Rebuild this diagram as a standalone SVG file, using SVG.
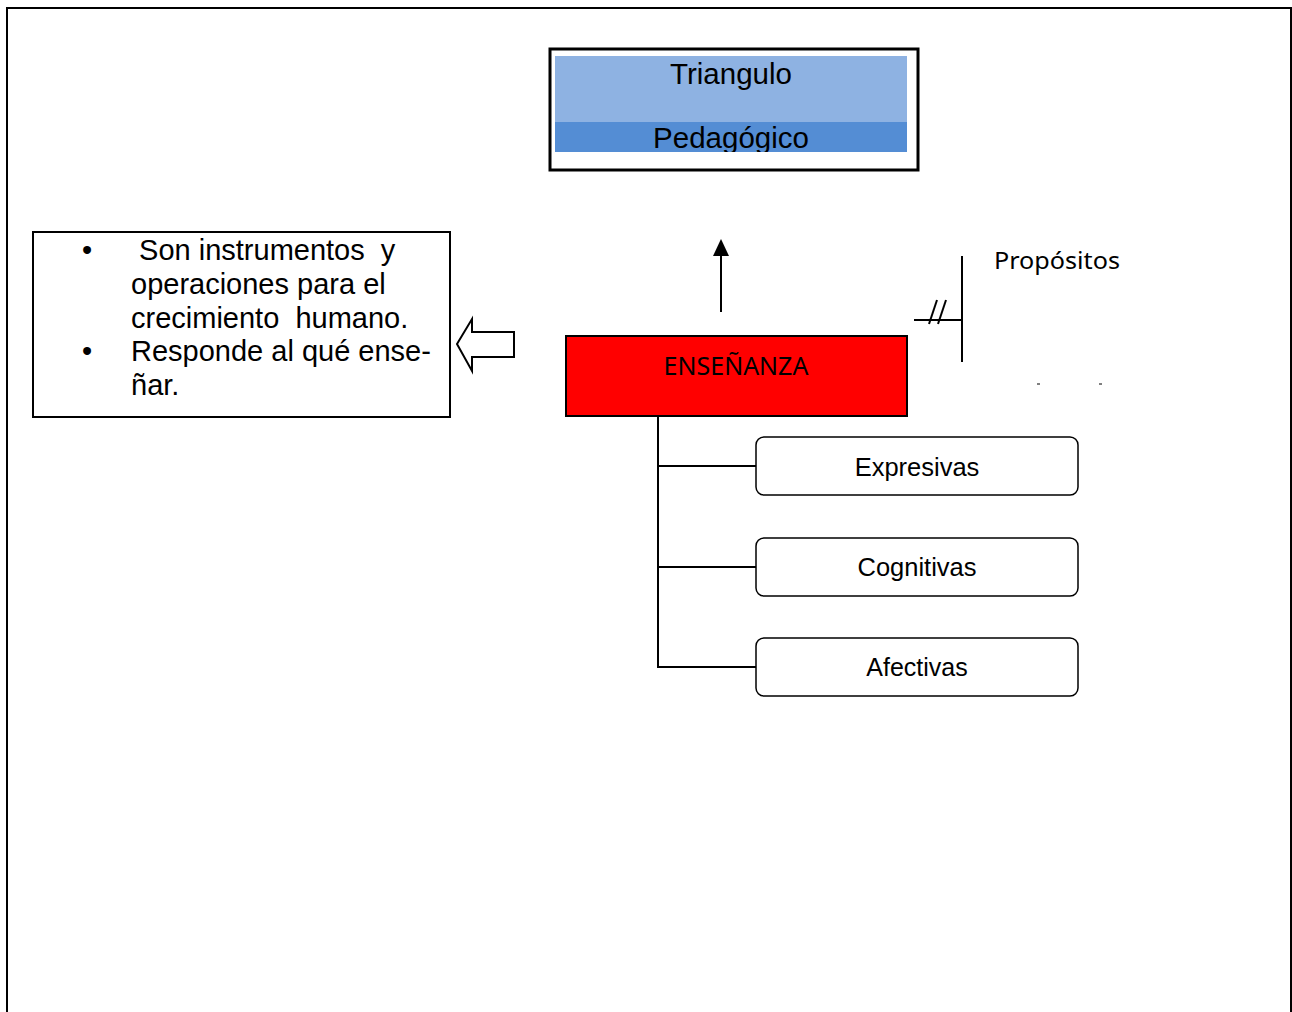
<svg xmlns="http://www.w3.org/2000/svg" width="1292" height="1012" viewBox="0 0 1292 1012">
<defs>
<style>
.ar{font-family:"Liberation Sans",Arial,sans-serif;fill:#000}
.ca{font-family:"Noto Sans","Open Sans",sans-serif;fill:#000}
.ln{stroke:#000;stroke-width:2;fill:none}
.rb{fill:#fff;stroke:#000;stroke-width:1.5}
.pre{white-space:pre}
</style>
<clipPath id="tclip"><rect x="555" y="56" width="352" height="96"/></clipPath>
</defs>
<rect width="1292" height="1012" fill="#fff"/>
<rect x="7" y="8" width="1284" height="1100" fill="none" stroke="#000" stroke-width="2"/>

<g id="triangulo">
<rect x="550" y="49" width="368" height="121" fill="#fff" stroke="#000" stroke-width="3"/>
<rect x="555" y="56" width="352" height="66" fill="#8eb2e2"/>
<rect x="555" y="122" width="352" height="30" fill="#548dd4"/>
<g clip-path="url(#tclip)">
<text class="ar" x="731" y="84" font-size="29.5" text-anchor="middle">Triangulo</text>
<text class="ar" x="731" y="148" font-size="29.5" text-anchor="middle">Pedagógico</text>
</g>
</g>

<g id="desc">
<rect x="33" y="232" width="417" height="185" fill="#fff" stroke="#000" stroke-width="2"/>
<text class="ar pre" font-size="29" xml:space="preserve"><tspan x="82" y="260">•</tspan><tspan x="131" y="260"> Son instrumentos  y</tspan><tspan x="131" y="294">operaciones para el</tspan><tspan x="131" y="328">crecimiento  humano.</tspan><tspan x="82" y="361">•</tspan><tspan x="131" y="361">Responde al qué ense-</tspan><tspan x="131" y="395">ñar.</tspan></text>
</g>

<g id="block-arrow">
<polygon points="457,344 472,319 472,332 514,332 514,357 472,357 472,371" fill="#fff" stroke="#000" stroke-width="2"/>
</g>

<g id="ensenanza">
<rect x="566" y="336" width="341" height="80" fill="#ff0000" stroke="#000" stroke-width="2"/>
<text class="ca" x="736" y="375" font-size="25" text-anchor="middle">ENSEÑANZA</text>
</g>

<g id="propositos">
<text class="ca" x="994" y="269" font-size="24" textLength="126" lengthAdjust="spacingAndGlyphs">Propósitos</text>
</g>

<g id="expresivas">
<rect class="rb" x="756" y="437" width="322" height="58" rx="8"/>
<text class="ar" x="917" y="476" font-size="25.5" text-anchor="middle">Expresivas</text>
</g>
<g id="cognitivas">
<rect class="rb" x="756" y="538" width="322" height="58" rx="8"/>
<text class="ar" x="917" y="576" font-size="25.5" text-anchor="middle">Cognitivas</text>
</g>
<g id="afectivas">
<rect class="rb" x="756" y="638" width="322" height="58" rx="8"/>
<text class="ar" x="917" y="676" font-size="25" text-anchor="middle">Afectivas</text>
</g>

<g id="connectors">
<line class="ln" x1="721" y1="312" x2="721" y2="252"/>
<polygon points="721,239 713,256 729,256" fill="#000"/>
<line class="ln" x1="962" y1="256" x2="962" y2="362"/>
<line class="ln" x1="914" y1="320" x2="962" y2="320"/>
<line class="ln" x1="929" y1="324" x2="937" y2="300"/>
<line class="ln" x1="938" y1="324" x2="946" y2="300"/>
<polyline class="ln" points="658,416 658,667 756,667" stroke-width="2.5"/>
<line class="ln" x1="658" y1="466" x2="756" y2="466"/>
<line class="ln" x1="658" y1="567" x2="756" y2="567"/>
<line x1="1037" y1="384" x2="1040" y2="384" stroke="#000" stroke-width="1"/>
<line x1="1099" y1="384" x2="1102" y2="384" stroke="#000" stroke-width="1"/>
</g>
</svg>
